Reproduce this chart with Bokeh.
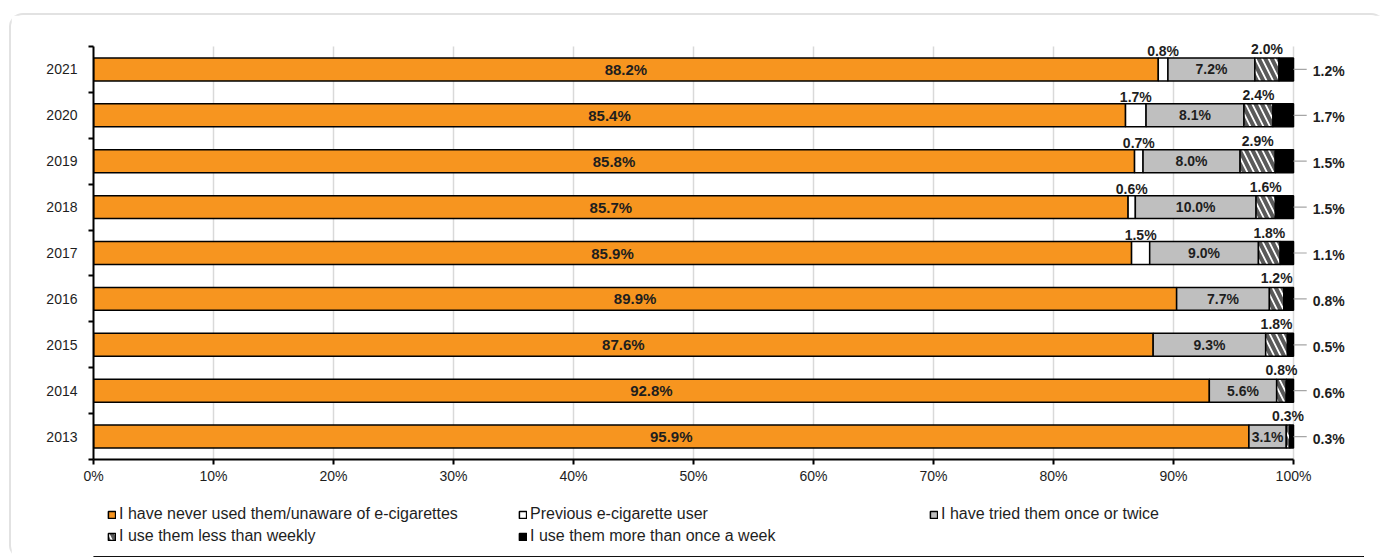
import numpy as np
from bokeh.plotting import figure
from bokeh.layouts import column
from bokeh.models import ColumnDataSource, FixedTicker, Legend, LegendItem, Range1d
from bokeh.core.properties import value
from bokeh.embed import file_html
from bokeh.resources import INLINE

# Survey years (bottom to top) and the share of respondents in each group (%)
years = ["2013", "2014", "2015", "2016", "2017", "2018", "2019", "2020", "2021"]
never_used = [95.9, 92.8, 87.6, 89.9, 85.9, 85.7, 85.8, 85.4, 88.2]
previous_user = [0.0, 0.0, 0.0, 0.0, 1.5, 0.6, 0.7, 1.7, 0.8]
tried_once = [3.1, 5.6, 9.3, 7.7, 9.0, 10.0, 8.0, 8.1, 7.2]
less_weekly = [0.3, 0.8, 1.8, 1.2, 1.8, 1.6, 2.9, 2.4, 2.0]
more_weekly = [0.3, 0.6, 0.5, 0.8, 1.1, 1.5, 1.5, 1.7, 1.2]

series_names = [
    "I have never used them/unaware of e-cigarettes",
    "Previous e-cigarette user",
    "I have tried them once or twice",
    "I use them less than weekly",
    "I use them more than once a week",
]
x_ticks = [0, 10, 20, 30, 40, 50, 60, 70, 80, 90, 100]
x_tick_labels = ["0%", "10%", "20%", "30%", "40%", "50%", "60%", "70%", "80%", "90%", "100%"]

FONT = "Liberation Sans"
TEXT = "#1e1e1e"
ORANGE = "#f7951f"
GREY = "#bfbfbf"
BAR_H = 0.5

raw = np.array([never_used, previous_user, tried_once, less_weekly, more_weekly])
shares = raw / raw.sum(axis=0) * 100.0          # each year stacked to 100 %
rights = np.cumsum(shares, axis=0)
lefts = rights - shares
pos = np.arange(len(years), dtype=float)


def pct(v):
    return f"{v:.1f}%"


# geometry of the plotting area (pixels)
px_per_pct = 12.0
px_per_row = 413 / len(years)
frame_w = 1270
frame_h = 434
y_top = -0.5 + frame_h / px_per_row

p = figure(width=1372, height=474, frame_width=frame_w, frame_height=frame_h,
           x_range=Range1d(0, frame_w / px_per_pct), y_range=Range1d(-0.5, y_top),
           output_backend="svg", toolbar_location=None,
           min_border_left=82, min_border_right=20, min_border_top=10, min_border_bottom=30)
p.outline_line_color = None
p.background_fill_color = "white"
p.border_fill_color = "white"
p.xgrid.visible = False
p.ygrid.visible = False

# vertical grid lines, only across the category band
p.segment(x0=x_ticks[1:], x1=x_ticks[1:], y0=-0.5, y1=len(years) - 0.5,
          line_color="#d9d9d9", line_width=1.5, level="underlay")

fills = [ORANGE, "white", GREY, "white", "black"]
bar_styles = []
bar_sources = []
for i, name in enumerate(series_names):
    kw = dict(fill_color=fills[i], line_color="black", line_width=1.5)
    if i == 3:
        kw.update(hatch_pattern="\\", hatch_color="#5a5a5a", hatch_weight=4, hatch_scale=13)
    bar_styles.append(kw)
    keep = shares[i] > 0
    src = ColumnDataSource(dict(y=pos[keep], left=lefts[i][keep], right=rights[i][keep]))
    bar_sources.append(src)
    p.hbar(y="y", left="left", right="right", height=BAR_H, source=src, **kw)

label_style = dict(text_font=value(FONT), text_font_style="bold", text_color=TEXT)

# values inside the orange and grey segments
for i, size in ((0, "15px"), (2, "14px")):
    src = ColumnDataSource(dict(x=(lefts[i] + rights[i]) / 2, y=pos,
                                t=[pct(v) for v in raw[i]]))
    p.text(x="x", y="y", text="t", source=src, text_align="center",
           text_baseline="middle", text_font_size=size, **label_style)

# values above the narrow segments
for i, off in ((1, 1), (3, -1)):
    keep = raw[i] > 0
    src = ColumnDataSource(dict(x=((lefts[i] + rights[i]) / 2)[keep],
                                y=pos[keep] + BAR_H / 2,
                                t=[pct(v) for v in raw[i][keep]]))
    p.text(x="x", y="y", text="t", source=src, text_align="center",
           text_baseline="bottom", y_offset=off, text_font_size="14px", **label_style)

# weekly users: leader line and value to the right of each bar
p.segment(x0=rights[4], x1=rights[4] + 1.1, y0=pos, y1=pos,
          line_color="#a6a6a6", line_width=1.2)
src = ColumnDataSource(dict(x=rights[4] + 1.6, y=pos, t=[pct(v) for v in raw[4]]))
p.text(x="x", y="y", text="t", source=src, text_align="left", y_offset=2,
       text_baseline="middle", text_font_size="14px", **label_style)

# x axis
xa = p.xaxis[0]
xa.ticker = FixedTicker(ticks=x_ticks)
xa.major_label_overrides = {t: l for t, l in zip(x_ticks, x_tick_labels)}
xa.bounds = (0, 100)
xa.axis_line_width = 2
xa.axis_line_color = "black"
xa.major_tick_line_width = 2
xa.major_tick_line_color = "black"
xa.major_tick_out = 5
xa.major_tick_in = 0
xa.minor_tick_line_color = None
xa.major_label_standoff = 3
xa.major_label_text_font = FONT
xa.major_label_text_font_size = "14px"
xa.major_label_text_color = TEXT

# y axis: labels at row centres, tick marks between rows
ya = p.yaxis[0]
ya.ticker = FixedTicker(ticks=list(pos), minor_ticks=list(np.arange(-0.5, len(years), 1.0)))
ya.major_label_overrides = {float(k): y for k, y in zip(pos, years)}
ya.bounds = (-0.5, len(years) - 0.5)
ya.axis_line_width = 2
ya.axis_line_color = "black"
ya.major_tick_out = 0
ya.major_tick_in = 0
ya.minor_tick_out = 5
ya.minor_tick_in = 0
ya.minor_tick_line_width = 2
ya.minor_tick_line_color = "black"
ya.major_label_standoff = 11
ya.major_label_text_font = FONT
ya.major_label_text_font_size = "14px"
ya.major_label_text_color = TEXT

# legend strip underneath the chart; its key glyphs share the bar styles
# (the bars themselves fall outside this strip's ranges)
leg = figure(width=1372, height=68, x_range=Range1d(0, 1),
             y_range=Range1d(len(years) + 5, len(years) + 6),
             output_backend="svg", toolbar_location=None,
             x_axis_location=None, y_axis_location=None, min_border=0)
leg.outline_line_color = None
leg.xgrid.visible = False
leg.ygrid.visible = False
keys = [leg.hbar(y="y", left="left", right="right", height=BAR_H, source=src, **kw)
        for src, kw in zip(bar_sources, bar_styles)]
legend = Legend(
    items=[LegendItem(label=n, renderers=[r]) for n, r in zip(series_names, keys)],
    orientation="horizontal", ncols=3, location=(14, 10),
    glyph_width=9, glyph_height=9, label_standoff=3, label_width=399, label_height=22,
    spacing=0, padding=0, margin=0, border_line_color=None, background_fill_alpha=0,
    label_text_font=FONT, label_text_font_size="16px", label_text_color=TEXT,
)
leg.add_layout(legend)

# light rounded frame around the whole chart
page = column(p, leg, spacing=0,
              styles={"margin-left": "11px", "margin-top": "15px",
                      "border-radius": "12px", "box-shadow": "0 0 0 2px #e2e2e2"})

open("out.html", "w").write(file_html(page, INLINE))
